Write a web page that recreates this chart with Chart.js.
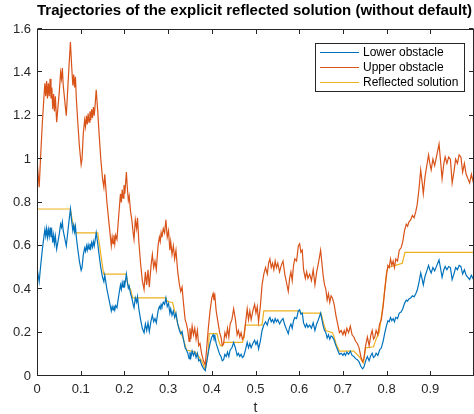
<!DOCTYPE html>
<html>
<head>
<meta charset="utf-8">
<script src="https://cdn.jsdelivr.net/npm/chart.js@4/dist/chart.umd.min.js"></script>
<style>
html,body{margin:0;padding:0;background:#fff;overflow:hidden;}
#wrap{width:474px;height:414px;overflow:hidden;position:relative;}
#box{width:480px;height:414px;}
</style>
</head>
<body>
<div id="wrap"><div id="box"><canvas id="c" width="480" height="414"></canvas></div></div>
<script>
// ---- data ----
const t = [0.000,0.003,0.005,0.008,0.012,0.016,0.018,0.020,0.022,0.024,0.026,0.028,0.030,0.032,0.034,0.036,0.038,0.040,0.042,0.045,0.048,0.051,0.054,0.056,0.058,0.060,0.063,0.065,0.067,0.070,0.073,0.0765,0.079,0.082,0.084,0.086,0.088,0.090,0.093,0.097,0.101,0.103,0.106,0.109,0.111,0.113,0.115,0.117,0.119,0.121,0.123,0.125,0.127,0.129,0.131,0.133,0.1355,0.139,0.142,0.146,0.150,0.153,0.155,0.157,0.160,0.164,0.167,0.170,0.172,0.174,0.176,0.178,0.180,0.183,0.187,0.191,0.193,0.195,0.197,0.199,0.201,0.2045,0.207,0.209,0.211,0.214,0.217,0.220,0.222,0.225,0.228,0.230,0.233,0.237,0.241,0.245,0.248,0.251,0.254,0.257,0.261,0.264,0.267,0.270,0.273,0.277,0.280,0.282,0.284,0.286,0.289,0.292,0.295,0.298,0.301,0.304,0.306,0.309,0.312,0.315,0.318,0.322,0.326,0.329,0.332,0.335,0.339,0.342,0.345,0.348,0.350,0.352,0.355,0.358,0.361,0.364,0.367,0.370,0.373,0.377,0.381,0.385,0.388,0.392,0.396,0.400,0.403,0.405,0.407,0.410,0.414,0.418,0.421,0.424,0.427,0.430,0.433,0.436,0.439,0.442,0.446,0.450,0.454,0.458,0.461,0.464,0.467,0.470,0.473,0.477,0.481,0.484,0.487,0.490,0.494,0.498,0.501,0.504,0.507,0.511,0.515,0.519,0.523,0.527,0.530,0.533,0.536,0.539,0.542,0.545,0.548,0.551,0.555,0.559,0.563,0.567,0.571,0.575,0.578,0.581,0.584,0.587,0.590,0.594,0.598,0.601,0.604,0.607,0.610,0.614,0.617,0.620,0.624,0.628,0.632,0.636,0.640,0.644,0.649,0.652,0.655,0.658,0.661,0.664,0.667,0.670,0.673,0.676,0.680,0.684,0.688,0.692,0.696,0.700,0.703,0.706,0.709,0.713,0.717,0.721,0.725,0.729,0.733,0.737,0.741,0.745,0.748,0.752,0.756,0.760,0.764,0.767,0.770,0.773,0.776,0.780,0.784,0.788,0.792,0.796,0.800,0.803,0.806,0.809,0.812,0.815,0.818,0.821,0.825,0.829,0.833,0.837,0.841,0.845,0.848,0.851,0.855,0.859,0.863,0.867,0.870,0.874,0.878,0.881,0.884,0.888,0.892,0.896,0.899,0.902,0.906,0.910,0.915,0.920,0.924,0.927,0.931,0.934,0.938,0.942,0.946,0.950,0.954,0.958,0.962,0.966,0.970,0.974,0.978,0.982,0.986,0.990,0.994,1.000];

const lower = [0.50,0.46,0.435,0.50,0.58,0.645,0.675,0.645,0.68,0.64,0.675,0.645,0.685,0.64,0.665,0.615,0.65,0.61,0.645,0.585,0.62,0.655,0.70,0.685,0.71,0.67,0.64,0.62,0.60,0.655,0.71,0.77,0.72,0.67,0.695,0.665,0.69,0.64,0.59,0.53,0.487,0.50,0.56,0.59,0.575,0.60,0.58,0.605,0.585,0.61,0.59,0.615,0.595,0.62,0.60,0.625,0.66,0.61,0.56,0.50,0.455,0.435,0.465,0.44,0.40,0.36,0.33,0.30,0.32,0.305,0.325,0.305,0.325,0.315,0.37,0.42,0.40,0.43,0.41,0.44,0.42,0.47,0.43,0.405,0.415,0.38,0.36,0.33,0.315,0.36,0.34,0.365,0.31,0.26,0.22,0.20,0.24,0.21,0.245,0.205,0.255,0.28,0.25,0.265,0.245,0.30,0.32,0.31,0.33,0.32,0.34,0.33,0.36,0.32,0.335,0.29,0.31,0.28,0.30,0.27,0.29,0.24,0.21,0.195,0.205,0.17,0.13,0.12,0.105,0.08,0.11,0.085,0.115,0.095,0.11,0.085,0.105,0.07,0.075,0.05,0.035,0.025,0.06,0.11,0.15,0.18,0.19,0.175,0.185,0.15,0.125,0.10,0.09,0.07,0.075,0.10,0.09,0.11,0.09,0.12,0.13,0.155,0.13,0.095,0.105,0.09,0.10,0.085,0.09,0.12,0.155,0.13,0.15,0.13,0.15,0.165,0.145,0.16,0.125,0.16,0.21,0.235,0.25,0.235,0.26,0.27,0.25,0.26,0.245,0.265,0.25,0.26,0.24,0.255,0.265,0.235,0.215,0.195,0.225,0.24,0.22,0.255,0.27,0.265,0.30,0.305,0.285,0.29,0.245,0.225,0.24,0.225,0.235,0.22,0.245,0.21,0.24,0.26,0.29,0.26,0.23,0.21,0.20,0.175,0.19,0.17,0.185,0.18,0.165,0.14,0.12,0.10,0.105,0.095,0.105,0.095,0.11,0.10,0.115,0.095,0.09,0.08,0.075,0.065,0.045,0.033,0.04,0.07,0.09,0.07,0.095,0.105,0.085,0.09,0.105,0.095,0.12,0.13,0.16,0.20,0.235,0.255,0.25,0.27,0.255,0.265,0.25,0.27,0.265,0.29,0.295,0.31,0.335,0.35,0.345,0.355,0.36,0.37,0.365,0.38,0.395,0.43,0.475,0.45,0.42,0.46,0.485,0.51,0.49,0.475,0.50,0.485,0.51,0.535,0.49,0.455,0.49,0.505,0.49,0.505,0.50,0.445,0.47,0.50,0.49,0.51,0.505,0.47,0.49,0.465,0.455,0.445,0.465,0.44];

const upper = [1.00,0.92,0.87,1.00,1.16,1.29,1.35,1.29,1.36,1.28,1.35,1.29,1.37,1.28,1.33,1.23,1.30,1.22,1.29,1.17,1.24,1.31,1.40,1.37,1.42,1.34,1.28,1.24,1.20,1.31,1.42,1.54,1.44,1.34,1.39,1.33,1.38,1.28,1.18,1.06,0.975,1.00,1.12,1.18,1.15,1.20,1.16,1.21,1.17,1.22,1.18,1.23,1.19,1.24,1.20,1.25,1.32,1.22,1.12,1.00,0.91,0.87,0.93,0.88,0.80,0.72,0.66,0.60,0.64,0.61,0.65,0.61,0.65,0.63,0.74,0.84,0.80,0.86,0.82,0.88,0.84,0.94,0.86,0.81,0.83,0.76,0.72,0.66,0.63,0.72,0.68,0.73,0.62,0.52,0.44,0.40,0.48,0.42,0.49,0.41,0.51,0.56,0.50,0.53,0.49,0.60,0.64,0.62,0.66,0.64,0.68,0.66,0.72,0.64,0.67,0.58,0.62,0.56,0.60,0.54,0.58,0.48,0.42,0.39,0.41,0.34,0.26,0.24,0.21,0.16,0.22,0.17,0.23,0.19,0.22,0.17,0.21,0.14,0.15,0.10,0.07,0.05,0.12,0.22,0.30,0.36,0.38,0.35,0.37,0.30,0.25,0.20,0.18,0.14,0.15,0.20,0.18,0.22,0.18,0.24,0.26,0.31,0.26,0.19,0.21,0.18,0.20,0.17,0.18,0.24,0.31,0.26,0.30,0.26,0.30,0.33,0.29,0.32,0.25,0.32,0.42,0.47,0.50,0.47,0.52,0.54,0.50,0.52,0.49,0.53,0.50,0.52,0.48,0.51,0.53,0.47,0.43,0.39,0.45,0.48,0.44,0.51,0.54,0.53,0.60,0.61,0.57,0.58,0.49,0.45,0.48,0.45,0.47,0.44,0.49,0.42,0.48,0.52,0.58,0.52,0.46,0.42,0.40,0.35,0.38,0.34,0.37,0.36,0.33,0.28,0.24,0.20,0.21,0.19,0.21,0.19,0.22,0.20,0.23,0.19,0.18,0.16,0.15,0.13,0.09,0.066,0.08,0.14,0.18,0.14,0.19,0.21,0.17,0.18,0.21,0.19,0.24,0.26,0.32,0.40,0.47,0.51,0.50,0.54,0.51,0.53,0.50,0.54,0.53,0.58,0.59,0.62,0.67,0.70,0.69,0.71,0.72,0.74,0.73,0.76,0.79,0.86,0.95,0.90,0.84,0.92,0.97,1.02,0.98,0.95,1.00,0.97,1.02,1.07,0.98,0.91,0.98,1.01,0.98,1.01,1.00,0.89,0.94,1.00,0.98,1.02,1.01,0.94,0.98,0.93,0.91,0.89,0.93,0.88];

const tRef = [0,0.0765,0.082,0.085,0.088,0.139,0.1525,0.2045,0.207,0.210,0.214,0.219,0.295,0.298,0.306,0.310,0.315,0.322,0.329,0.335,0.342,0.362,0.364,0.370,0.377,0.385,0.388,0.392,0.394,0.412,0.416,0.420,0.425,0.428,0.470,0.474,0.477,0.515,0.519,0.600,0.604,0.650,0.656,0.661,0.676,0.680,0.684,0.692,0.725,0.737,0.747,0.752,0.770,0.776,0.783,0.792,0.800,0.803,0.810,0.820,0.836,0.842,1.0];
const reflected = [0.77,0.77,0.70,0.695,0.66,0.66,0.47,0.47,0.43,0.41,0.40,0.36,0.36,0.345,0.34,0.34,0.30,0.24,0.20,0.17,0.12,0.11,0.105,0.09,0.07,0.03,0.06,0.11,0.195,0.195,0.16,0.14,0.14,0.155,0.155,0.18,0.235,0.235,0.30,0.30,0.29,0.29,0.24,0.21,0.20,0.18,0.15,0.115,0.115,0.09,0.06,0.13,0.135,0.17,0.20,0.33,0.48,0.50,0.505,0.51,0.52,0.57,0.57];

const seriesNames = ['Lower obstacle','Upper obstacle','Reflected solution'];
const xTicks = [0,0.1,0.2,0.3,0.4,0.5,0.6,0.7,0.8,0.9,1];
const yTicks = [0,0.2,0.4,0.6,0.8,1,1.2,1.4,1.6];

const COLORS = ['#0072BD','#D95319','#EDB120'];
const AX = '#262626';
const FONT = "'Liberation Sans', Arial, Helvetica, sans-serif";

const frameTicks = {
  id:'frameTicks',
  afterDatasetsDraw(chart){
    const {ctx, chartArea:a, scales} = chart;
    ctx.save();
    ctx.strokeStyle = AX; ctx.lineWidth = 1;
    const L = Math.round(a.left)+0.5, R = Math.round(a.right)-0.5, T = Math.round(a.top)+0.5, B = Math.round(a.bottom)-0.5;
    ctx.strokeRect(L, T, R-L, B-T);
    ctx.beginPath();
    const len = 4.5;
    xTicks.forEach(v=>{ const x = Math.round(scales.x.getPixelForValue(v))+0.5; ctx.moveTo(x,B); ctx.lineTo(x,B-len); ctx.moveTo(x,T); ctx.lineTo(x,T+len); });
    yTicks.forEach(v=>{ const y = Math.round(scales.y.getPixelForValue(v))-0.5; ctx.moveTo(L,y); ctx.lineTo(L+len,y); ctx.moveTo(R,y); ctx.lineTo(R-len,y); });
    ctx.stroke();
    // legend box
    const bx = 315.5, by = 43.5, bw = 149, bh = 48;
    ctx.fillStyle = '#fff'; ctx.fillRect(bx,by,bw,bh);
    ctx.strokeStyle = AX; ctx.strokeRect(bx,by,bw,bh);
    ctx.font = '12px ' + FONT; ctx.textBaseline = 'middle'; ctx.textAlign = 'left';
    chart.data.datasets.forEach((ds,i)=>{
      const y = 52.5 + i*15;
      ctx.strokeStyle = ds.borderColor; ctx.lineWidth = 1;
      ctx.beginPath(); ctx.moveTo(320,y); ctx.lineTo(359,y); ctx.stroke();
      ctx.fillStyle = '#000'; ctx.fillText(ds.label, 363, y+0.5);
    });
    ctx.restore();
  }
};

const mk = (xs, ys) => xs.map((x,i)=>({x:x, y:ys[i]}));

new Chart(document.getElementById('c'), {
  type:'line',
  data:{ datasets:[
    {label:seriesNames[0], data:mk(t,lower), borderColor:COLORS[0], borderWidth:1.2, pointRadius:0, tension:0, fill:false},
    {label:seriesNames[1], data:mk(t,upper), borderColor:COLORS[1], borderWidth:1.2, pointRadius:0, tension:0, fill:false},
    {label:seriesNames[2], data:mk(tRef,reflected), borderColor:COLORS[2], borderWidth:1.2, pointRadius:0, tension:0, fill:false}
  ]},
  options:{
    responsive:false, animation:false, devicePixelRatio:1,
    layout:{padding:{left:0,right:3,top:0,bottom:0}},
    plugins:{
      legend:{display:false}, tooltip:{enabled:false},
      title:{display:true, text:'Trajectories of the explicit reflected solution (without default)', align:'start', fullSize:false,
        color:'#000', font:{family:FONT, size:15, weight:'bold', lineHeight:1.2}, padding:{top:2,bottom:9}}
    },
    scales:{
      x:{type:'linear', min:0, max:1,
        afterBuildTicks(s){ s.ticks = xTicks.map(v=>({value:v})); },
        afterFit(s){ s.height = 38; },
        grid:{display:false, drawTicks:false}, border:{display:false},
        ticks:{color:AX, padding:6, maxRotation:0, font:{family:FONT,size:13}, callback:(v)=> v===1 ? '' : String(v)},
        title:{display:true, text:'t', color:AX, font:{family:FONT,size:14}, padding:{top:0,bottom:-3}}
      },
      y:{type:'linear', min:0, max:1.6,
        afterBuildTicks(s){ s.ticks = yTicks.map(v=>({value:v})); },
        afterFit(s){ s.width = 37; },
        grid:{display:false, drawTicks:false}, border:{display:false},
        ticks:{color:AX, padding:6, font:{family:FONT,size:13}, callback:(v)=> String(v)}
      }
    }
  },
  plugins:[frameTicks]
});
</script>
</body>
</html>
